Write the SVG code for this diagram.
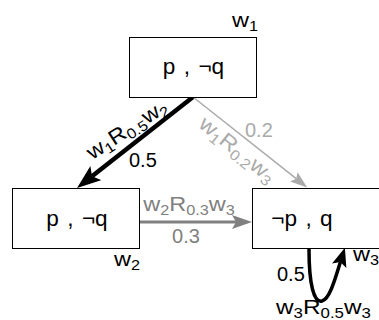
<svg xmlns="http://www.w3.org/2000/svg" width="379" height="320" viewBox="0 0 379 320">
  <style>
    text { font-family: "Liberation Sans", Arial, sans-serif; font-size: 21px; fill: #000; }
    .num { font-size: 20px; }
    .sub { font-size: 14.5px; }
    .box { fill: #fff; stroke: #000; stroke-width: 1; }
    .state { font-size: 21.5px; word-spacing: 2px; }
    .mid { fill: #808080; }
    .light { fill: #aaaaaa; }
  </style>
  <defs>
    <marker id="headBlack" markerUnits="userSpaceOnUse" viewBox="0 0 24 18" markerWidth="24" markerHeight="18" refX="5" refY="9" orient="auto">
      <path d="M0,0 L24,9 L0,18 L5,9 Z" fill="#000"/>
    </marker>
    <marker id="headMid" markerUnits="userSpaceOnUse" viewBox="0 0 20 14" markerWidth="20" markerHeight="14" refX="4" refY="7" orient="auto">
      <path d="M0,0 L20,7 L0,14 L4,7 Z" fill="#808080"/>
    </marker>
    <marker id="headLight" markerUnits="userSpaceOnUse" viewBox="0 0 17 12" markerWidth="17" markerHeight="12" refX="3" refY="6" orient="auto">
      <path d="M0,0 L17,6 L0,12 L3,6 Z" fill="#aaaaaa"/>
    </marker>
    <marker id="headLoop" markerUnits="userSpaceOnUse" viewBox="0 0 19 15" markerWidth="19" markerHeight="15" refX="4" refY="7.5" orient="auto">
      <path d="M0,0 L19,7.5 L0,15 L4,7.5 Z" fill="#000"/>
    </marker>
  </defs>

  <rect width="379" height="320" fill="#fff"/>

  <!-- connectors -->
  <g id="connectors" fill="none">
    <path id="e12" d="M193,97 L92,176.2" stroke="#000" stroke-width="4.5" marker-end="url(#headBlack)"/>
    <path id="e13" d="M193,97 L296.2,178.7" stroke="#aaaaaa" stroke-width="1.5" marker-end="url(#headLight)"/>
    <path id="e23" d="M139,222 L236,222" stroke="#808080" stroke-width="3" marker-end="url(#headMid)"/>
    <path id="e33" d="M309,249 C309,285 314,303 322,301 C330,299 336,276 340.4,262" stroke="#000" stroke-width="3.5" marker-end="url(#headLoop)"/>

    <g id="e12-label">
      <text transform="translate(130.6,135.2) rotate(-33) scale(1.12,1)" text-anchor="middle">w<tspan class="sub" dy="4">1</tspan><tspan dy="-4">R</tspan><tspan class="sub" dy="4">0.5</tspan><tspan dy="-4">w</tspan><tspan class="sub" dy="4">2</tspan></text>
      <text class="num" x="129" y="167">0.5</text>
    </g>
    <g id="e13-label">
      <text class="light" transform="translate(233,155) rotate(39) scale(1.12,1)" text-anchor="middle">w<tspan class="sub" dy="4">1</tspan><tspan dy="-4">R</tspan><tspan class="sub" dy="4">0.2</tspan><tspan dy="-4">w</tspan><tspan class="sub" dy="4">3</tspan></text>
      <text class="num light" x="245" y="137">0.2</text>
    </g>
    <g id="e23-label">
      <text class="mid" transform="translate(189,211) scale(1.12,1)" text-anchor="middle">w<tspan class="sub" dy="4">2</tspan><tspan dy="-4">R</tspan><tspan class="sub" dy="4">0.3</tspan><tspan dy="-4">w</tspan><tspan class="sub" dy="4">3</tspan></text>
      <text class="num mid" x="186" y="243" text-anchor="middle">0.3</text>
    </g>
    <g id="e33-label">
      <text class="num" x="277" y="281">0.5</text>
      <text transform="translate(276,314) scale(1.16,1)">w<tspan class="sub" dy="4">3</tspan><tspan dy="-4">R</tspan><tspan class="sub" dy="4">0.5</tspan><tspan dy="-4">w</tspan><tspan class="sub" dy="4">3</tspan></text>
    </g>
  </g>

  <!-- worlds -->
  <g id="w1">
    <rect class="box" x="129.5" y="37.5" width="127" height="60"/>
    <text class="state" transform="translate(193.5,74) scale(1.05,1)" text-anchor="middle">p , ¬q</text>
    <text transform="translate(232,27) scale(1.12,1)">w<tspan class="sub" dy="4">1</tspan></text>
  </g>
  <g id="w2">
    <rect class="box" x="12.5" y="188.5" width="127" height="60"/>
    <text class="state" transform="translate(77,226) scale(1.05,1)" text-anchor="middle">p , ¬q</text>
    <text transform="translate(114,266) scale(1.12,1)">w<tspan class="sub" dy="4">2</tspan></text>
  </g>
  <g id="w3">
    <rect class="box" x="252.5" y="188.5" width="140" height="60"/>
    <text class="state" transform="translate(302,226) scale(1.05,1)" text-anchor="middle">¬p , q</text>
    <text transform="translate(353,261) scale(1.12,1)">w<tspan class="sub" dy="4">3</tspan></text>
  </g>
</svg>
